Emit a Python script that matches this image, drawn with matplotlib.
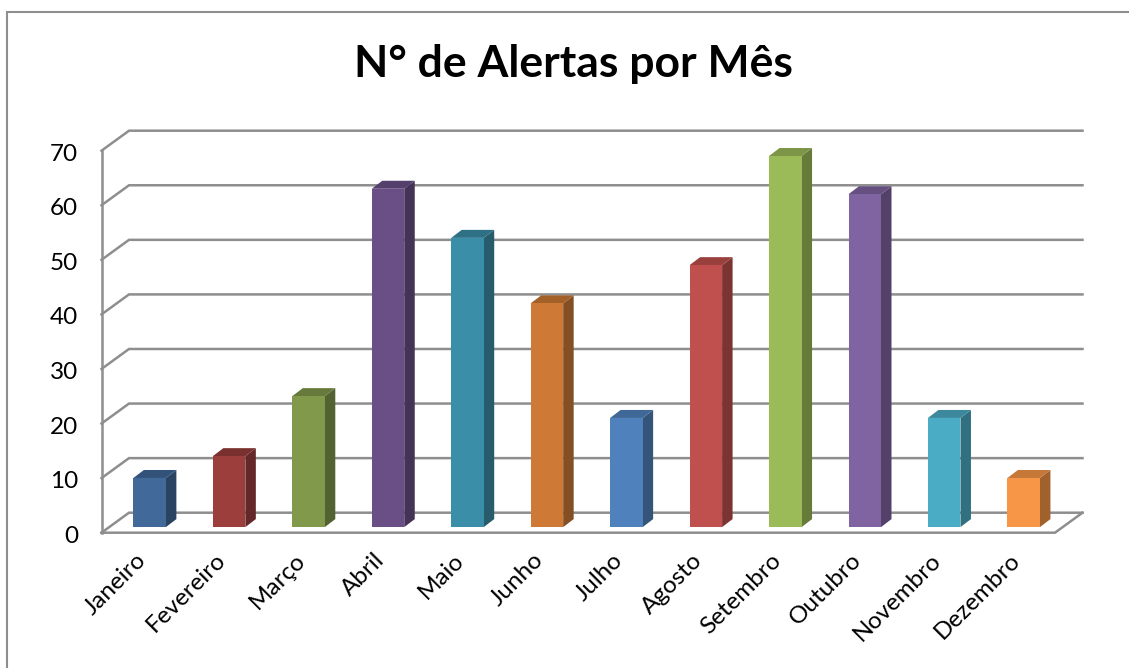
import matplotlib
matplotlib.use("Agg")
import matplotlib.pyplot as plt
from matplotlib.patches import Polygon, Rectangle
from matplotlib.transforms import ScaledTranslation
import numpy as np

plt.rcParams["font.family"] = ["Lato", "DejaVu Sans"]

W, H = 1129, 668

months = ["Janeiro", "Fevereiro", "Março", "Abril", "Maio", "Junho", "Julho",
          "Agosto", "Setembro", "Outubro", "Novembro", "Dezembro"]
alerts = [9, 13, 24, 62, 53, 41, 20, 48, 68, 61, 20, 9]
y_ticks = [0, 10, 20, 30, 40, 50, 60, 70]

front_colors = ["#41699A", "#9B3E3C", "#81994A", "#6A4F87", "#3A8EA8", "#CE7A36",
                "#4F81BD", "#C0504D", "#9BBB59", "#8064A2", "#4BACC6", "#F79646"]
side_colors = ["#294363", "#64282A", "#536232", "#453357", "#265C6C", "#845023",
               "#345479", "#7C3432", "#667A3A", "#534169", "#317081", "#A0612D"]
top_colors = ["#33527A", "#7A302E", "#677A3B", "#553F6C", "#2E7186", "#A46029",
              "#3F6797", "#99403D", "#7C9547", "#665082", "#3C899E", "#C57838"]

GRID = "#8E8E8E"

# front plane of the fake 3d box, in pixels
left, right, bottom, top = 101.5, 1055, 532.7, 150.7
fig = plt.figure(figsize=(W / 100, H / 100), dpi=100)
ax = fig.add_axes([left / W, 1 - bottom / H, (right - left) / W, (bottom - top) / H])
ax.set_xlim(-0.5, 11.5)
ax.set_ylim(0, 70)
ax.patch.set_visible(False)
for s in ax.spines.values():
    s.set_visible(False)

# one pixel in data units
px = 12 / (right - left)
py = 70 / (bottom - top)

wall_dx, wall_dy = 27.5 * px, 20 * py
depth_dx, depth_dy = 10.5 * px, 8 * py
bar_dx, bar_dy = 8.4 * px, 5.6 * py
bar_w = 32.5 * px

# walls and floor
for v in y_ticks:
    ax.plot([-0.5, -0.5 + wall_dx, 11.5 + wall_dx], [v, v + wall_dy, v + wall_dy],
            color=GRID, lw=1.8, clip_on=False, zorder=1, solid_joinstyle="miter")
ax.plot([-0.5, -0.5], [0, 70], color=GRID, lw=1.8, clip_on=False, zorder=1)
ax.plot([-0.5, 11.5, 11.5 + wall_dx], [0, 0, wall_dy], color=GRID, lw=1.8,
        clip_on=False, zorder=1, solid_joinstyle="miter")

# bars: front face, then side and top faces from the same values
x = np.arange(len(months)) + bar_dx
ax.bar(x, alerts, width=bar_w, bottom=bar_dy, color=front_colors, zorder=3, clip_on=False)
for xi, v, cs, ct in zip(x, alerts, side_colors, top_colors):
    x0, x1 = xi - bar_w / 2, xi + bar_w / 2
    y0, y1 = bar_dy, bar_dy + v
    ax.add_patch(Polygon([(x1, y0), (x1 + depth_dx, y0 + depth_dy),
                          (x1 + depth_dx, y1 + depth_dy), (x1, y1)],
                         facecolor=cs, edgecolor="none", zorder=2, clip_on=False))
    ax.add_patch(Polygon([(x0, y1), (x0 + depth_dx, y1 + depth_dy),
                          (x1 + depth_dx, y1 + depth_dy), (x1, y1)],
                         facecolor=ct, edgecolor="none", zorder=2, clip_on=False))

ax.set_yticks(y_ticks)
ax.set_xticks(np.arange(len(months)))
ax.set_xticklabels(months, rotation=45, ha="right", va="top", rotation_mode="anchor")
ax.tick_params(axis="x", length=0, pad=12, labelsize=17.5)
ax.tick_params(axis="y", length=0, pad=17, labelsize=17.5)

# x labels sit a little left of the slot centres, y labels a little low
shift_x = ScaledTranslation(-6 / 100, 0, fig.dpi_scale_trans)
for lab in ax.get_xticklabels():
    lab.set_transform(lab.get_transform() + shift_x)
shift_y = ScaledTranslation(0, -1.5 / 100, fig.dpi_scale_trans)
for lab in ax.get_yticklabels():
    lab.set_transform(lab.get_transform() + shift_y)

fig.text(573.5 / W, 1 - 64 / H, "N° de Alertas por Mês", ha="center", va="center",
         fontsize=32, fontweight="bold", color="black")

# chart frame, cut by the image on the right and at the bottom
fig.add_artist(Rectangle((6.5 / W, -0.01), 1.1, 1 - 12 / H + 0.01, transform=fig.transFigure,
                         facecolor="none", edgecolor="#8E8E8E", lw=1.5))

fig.savefig("out.png", dpi=100)
